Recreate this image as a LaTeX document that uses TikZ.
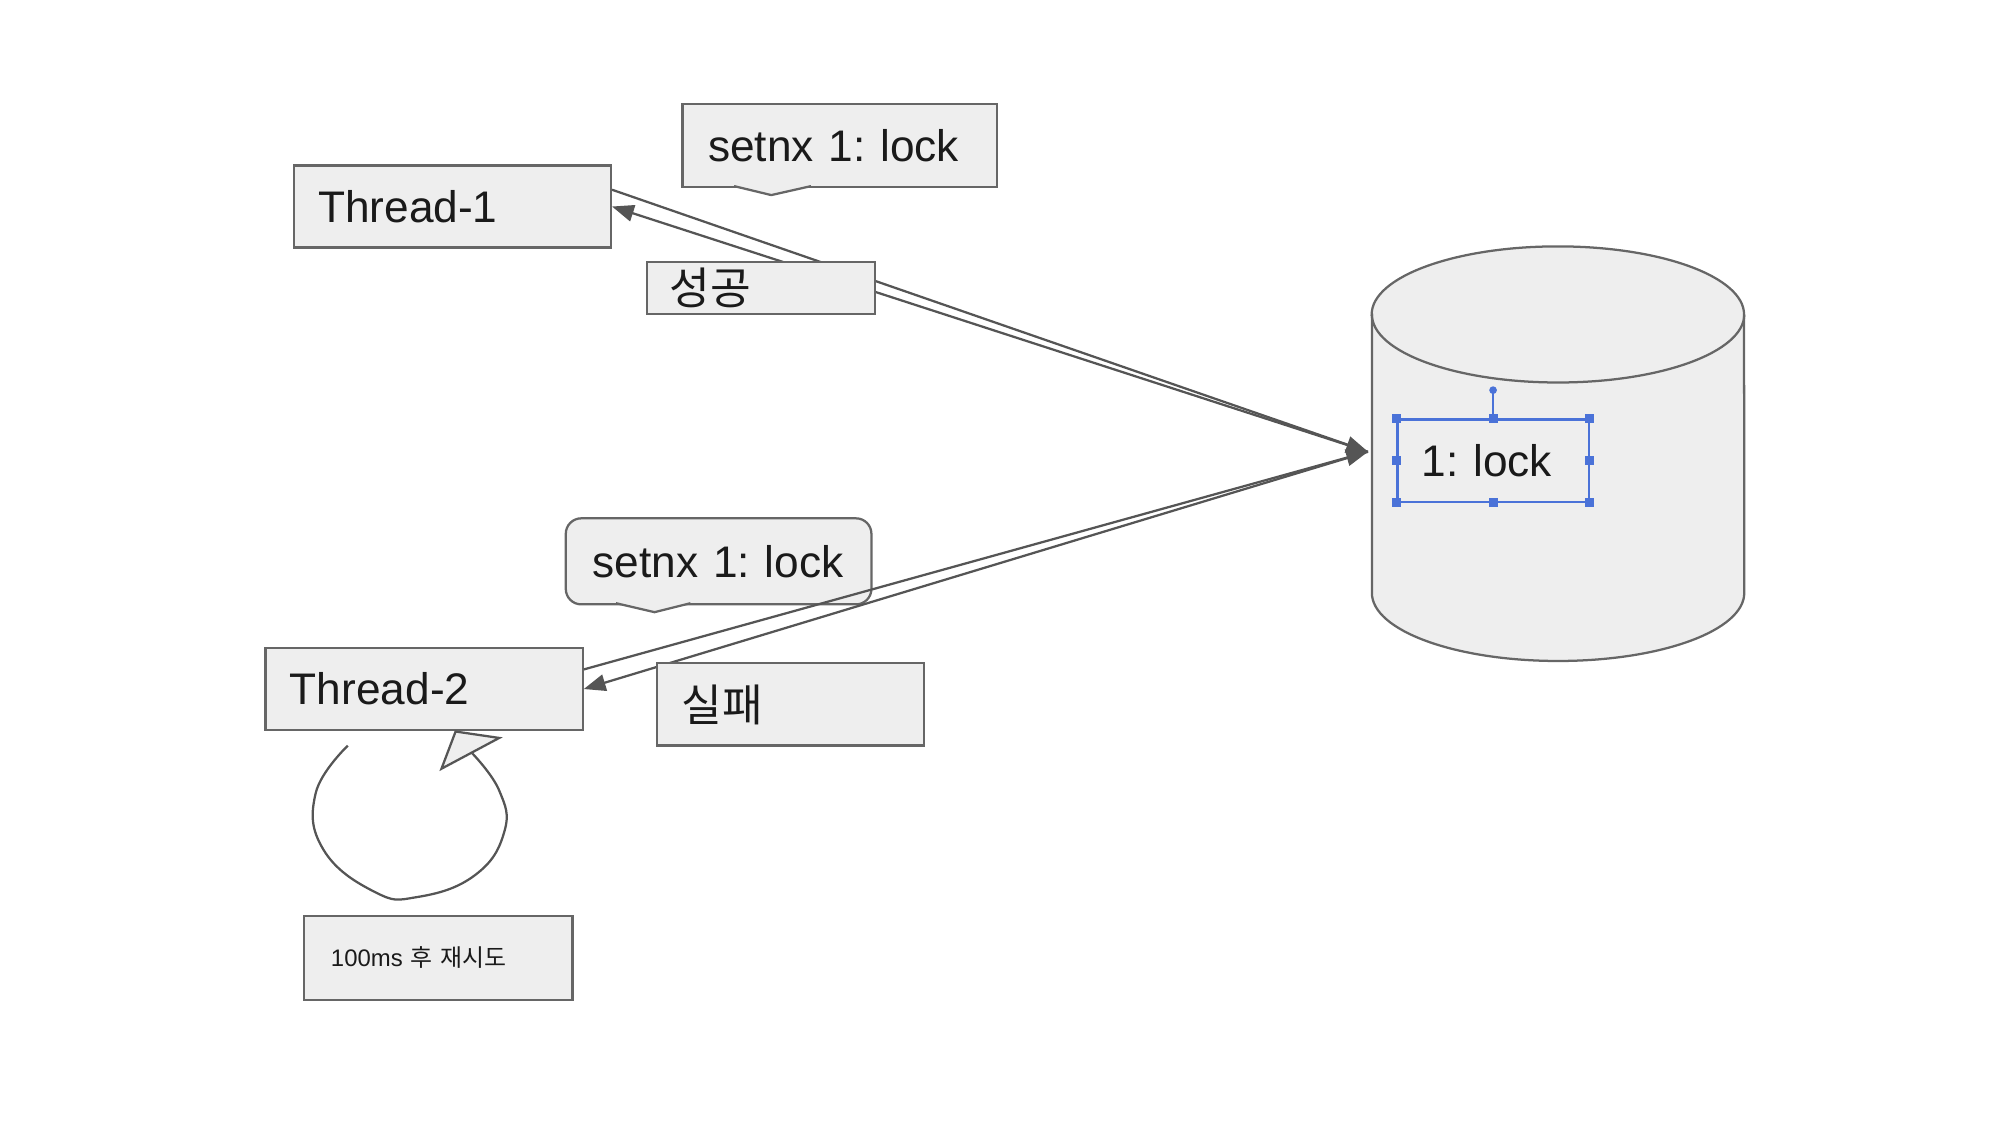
\documentclass[tikz,border=0pt]{standalone}
\usepackage{fontspec}
\setmainfont{Liberation Sans}
\newfontfamily\kr{Noto Sans CJK KR}
\usepackage{tikz}
\usetikzlibrary{arrows.meta}
\definecolor{bf}{HTML}{EEEEEE}
\definecolor{bd}{HTML}{666666}
\definecolor{ln}{HTML}{555555}
\definecolor{sel}{HTML}{4A72D8}
\definecolor{tx}{HTML}{1A1A1A}
\frenchspacing

\begin{document}
\begin{tikzpicture}[x=0.01cm,y=-0.01cm,
    bx/.style={draw=bd,fill=bf,line width=0.5pt,anchor=north west,align=left,inner ysep=0pt,text=tx,font=\fontsize{9.8}{11}\selectfont},
    ar/.style={draw=ln,line width=0.5pt,-{Triangle[length=0.17cm,width=0.13cm]}}]
            \useasboundingbox (0,0) rectangle (1560,880.5);
            \draw[bd,fill=bf,line width=0.5pt] (1069,245) -- (1069,462) arc[start angle=180,end angle=360,x radius=1.45cm,y radius=0.53cm] -- (1359,245) arc[start angle=0,end angle=180,x radius=1.45cm,y radius=0.53cm] -- cycle;
            \draw[bd,line width=0.5pt] (1069,245) arc[start angle=180,end angle=360,x radius=1.45cm,y radius=0.53cm];
            \coordinate (dbin) at (1066,352);
            \node[bx,inner xsep=0.19cm,text width=2.09cm,minimum height=0.64cm] (t1) at (228,128) {Thread-1};
            \node[bx,inner xsep=0.2cm,text width=2.05cm,minimum height=0.65cm] (c1) at (531,80) {setnx 1: lock};
            \draw[bd,fill=bf,line width=0.5pt] (572,145) -- (601,152) -- (632,145);
            \fill[bf] (573.5,143.6) -- (630.5,143.6) -- (601,149.6) -- cycle;
            \draw[ar] (t1.6) -- (dbin);
            \draw[ar] (dbin) -- (t1.east);
            \node[bx,inner xsep=0.18cm,text width=1.42cm,minimum height=0.41cm] (s1) at (503,203) {\kr 성공};
            \node[bx,inner xsep=0.19cm,text width=2.09cm,minimum height=0.64cm] (t2) at (206,504) {Thread-2};
            \node[bx,rounded corners=0.12cm,inner xsep=0.21cm,text width=1.96cm,minimum height=0.67cm] (c2) at (440,403) {setnx 1: lock};
            \draw[bd,fill=bf,line width=0.5pt] (480,470) -- (510,477) -- (538,470);
            \fill[bf] (481.5,468.6) -- (536.5,468.6) -- (510,474.6) -- cycle;
            \draw[ar] (t2.7) -- (dbin);
            \draw[ar] (dbin) -- (t2.east);
            \node[bx,inner xsep=0.19cm,text width=1.7cm,minimum height=0.64cm] (f1) at (511,516) {\kr 실패};
            \node[bx,inner xsep=0.21cm,text width=1.67cm,minimum height=0.65cm,font=\fontsize{5.3}{6}\selectfont] (r1) at (236,713) {100ms {\kr 후 재시도}};
            \draw[ln,line width=0.5pt] plot[smooth,tension=0.75] coordinates {(271,581) (246,618) (252,662) (292,695) (325,699) (370,682) (393,648) (389,616) (368,587)};
            \filldraw[draw=ln,fill=bf,line width=0.5pt] (344,599) -- (355,570) -- (389,575) -- cycle;
            \node[bx,draw=sel,inner xsep=0.19cm,text width=1.11cm,minimum height=0.64cm] (val) at (1088,326) {1: lock};
            \draw[sel,line width=0.5pt] (val.north) -- ++(0,-22) coordinate (rot);
            \fill[sel] (rot) circle[radius=0.03cm];
            \foreach \a in {north west,north,north east,east,south east,south,south west,west}
              \fill[sel] (val.\a) ++(-3.5,-3.5) rectangle ++(7,7);
          \end{tikzpicture}
\end{document}
